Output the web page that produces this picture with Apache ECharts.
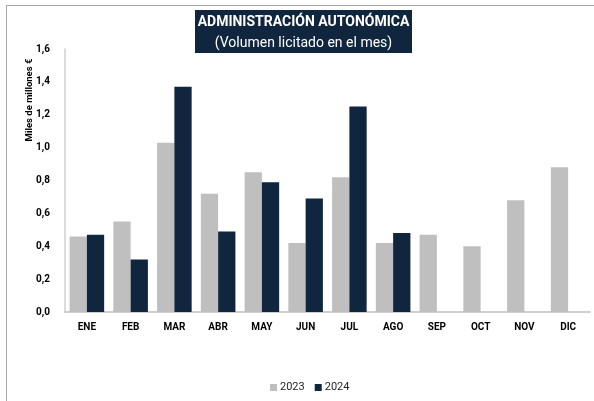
<!DOCTYPE html>
<html>
<head>
<meta charset="utf-8">
<script src="https://cdn.jsdelivr.net/npm/echarts@6/dist/echarts.min.js"></script>
<style>
  html, body { margin: 0; padding: 0; background: #fff; }
  #chart { width: 594px; height: 401px; }
</style>
</head>
<body>
<div id="chart"></div>
<script>
// meses
var months = ['ENE', 'FEB', 'MAR', 'ABR', 'MAY', 'JUN', 'JUL', 'AGO', 'SEP', 'OCT', 'NOV', 'DIC'];
// volumen licitado (miles de millones €)
var data2023 = [0.46, 0.55, 1.03, 0.72, 0.85, 0.42, 0.82, 0.42, 0.47, 0.40, 0.68, 0.88];
var data2024 = [0.47, 0.32, 1.37, 0.49, 0.79, 0.69, 1.25, 0.48];
var seriesNames = ['2023', '2024'];

var navy = '#10263f';
var grey = '#bfbfbf';
var font = 'Roboto, sans-serif';

var chart = echarts.init(document.getElementById('chart'));

chart.setOption({
  animation: false,
  backgroundColor: '#fff',
  graphic: [
    // marco
    { type: 'line', shape: { x1: 6, y1: 5.5, x2: 594, y2: 5.5 }, style: { stroke: '#a6a6a6', lineWidth: 1 } },
    { type: 'line', shape: { x1: 6.5, y1: 5, x2: 6.5, y2: 401 }, style: { stroke: '#a6a6a6', lineWidth: 1 } },
    // titulo
    { type: 'rect', shape: { x: 195, y: 10, width: 217, height: 43 }, style: { fill: navy } },
    {
      type: 'text', x: 303.5, y: 22,
      style: { text: 'ADMINISTRACIÓN AUTONÓMICA', fill: '#fff', font: 'bold 14px ' + font, align: 'center', verticalAlign: 'middle' }
    },
    {
      type: 'text', x: 303.5, y: 43,
      style: { text: '(Volumen licitado en el mes)', fill: '#fff', font: '14px ' + font, align: 'center', verticalAlign: 'middle' }
    },
    {
      type: 'text', x: 30, y: 100, rotation: Math.PI / 2,
      style: { text: 'Miles de millones €', fill: '#000', font: 'bold 9.5px ' + font, align: 'center', verticalAlign: 'middle' }
    }
  ],
  legend: {
    data: seriesNames,
    bottom: 3,
    left: 265,
    itemWidth: 7,
    itemHeight: 7,
    itemGap: 10,
    icon: 'rect',
    textStyle: { fontSize: 11, fontFamily: font, color: '#262626', padding: [0, 0, 0, -2] }
  },
  grid: { left: 65, right: 4, top: 49, bottom: 89 },
  xAxis: {
    type: 'category',
    data: months,
    axisLine: { lineStyle: { color: '#bfbfbf', width: 1.5 } },
    axisTick: { show: false },
    axisLabel: { color: '#000', fontWeight: 'bold', fontSize: 10, fontFamily: font, margin: 10 }
  },
  yAxis: {
    type: 'value',
    min: 0,
    max: 1.6,
    interval: 0.2,
    axisLine: { show: true, lineStyle: { color: '#d0d0d0', width: 1.5 } },
    axisTick: { show: false },
    splitLine: { show: false },
    axisLabel: {
      color: '#000', fontWeight: 'bold', fontSize: 10, fontFamily: font, margin: 15,
      formatter: function (v) { return v.toFixed(1).replace('.', ','); }
    }
  },
  series: [
    {
      name: seriesNames[0], type: 'bar', data: data2023,
      itemStyle: { color: grey },
      barGap: '0%', barCategoryGap: '21%'
    },
    {
      name: seriesNames[1], type: 'bar', data: data2024,
      itemStyle: { color: navy },
      barGap: '0%', barCategoryGap: '21%'
    }
  ]
});
</script>
</body>
</html>
